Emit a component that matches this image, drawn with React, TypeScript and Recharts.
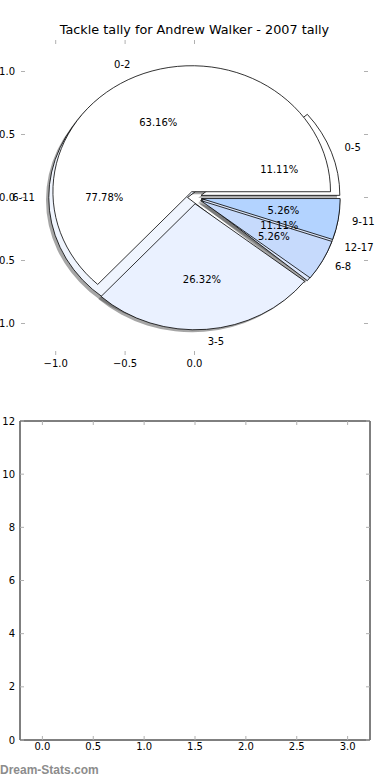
import React from "react";
import { PieChart, Pie, Cell, ScatterChart, Scatter, XAxis, YAxis } from "recharts";

const FONT = "'DejaVu Sans', sans-serif";

// first pie: age groups 0-17
const youthAges = ["0-5", "6-11", "12-17"];
const youthTackles = [1, 7, 1];
const youthColors = ["#ffffff", "#f0f5fe", "#dce7fc"];
const youthExplode = [0.05, 0.05, 0.05];

// second pie: age groups 0-11
const kidAges = ["0-2", "3-5", "6-8", "9-11"];
const kidTackles = [12, 5, 1, 1];
const kidColors = ["#ffffff", "#eaf1ff", "#c6dafc", "#b3d3ff"];
const kidExplode = [0.05, 0.05, 0.05, 0.05];

const pieTicksX = [-1, -0.5, 0];
const pieTicksY = [-1, -0.5, 0, 0.5, 1];
const barTicksX = [0, 0.5, 1, 1.5, 2, 2.5, 3];
const barTicksY = [0, 2, 4, 6, 8, 10, 12];

const youthData = youthAges.map((name, i) => ({ name, value: youthTackles[i], explode: youthExplode[i] }));
const kidData = kidAges.map((name, i) => ({ name, value: kidTackles[i], explode: kidExplode[i] }));

// pie axes geometry (matplotlib axes is not square, so the pie is an ellipse)
const W = 390;
const PIE_H = 380;
const P_LEFT = 21;
const P_RIGHT = 368;
const P_TOP = 40;
const P_BOTTOM = 355;
const CX = (P_LEFT + P_RIGHT) / 2;
const CY = (P_TOP + P_BOTTOM) / 2;
const RX = (P_RIGHT - P_LEFT) / 2.5;
const RY = (P_BOTTOM - P_TOP) / 2.5;
const SX = RX / RY;
const RAD = Math.PI / 180;

const fmt1 = (v: number) => (v < 0 ? "\u2212" : "") + Math.abs(v).toFixed(1);
const blank = () => "";

const wedge = (shadow: boolean) => (props: any) => {
  const { cx, cy, outerRadius, startAngle, endAngle, fill } = props;
  const e = props.payload?.explode ?? props.explode ?? 0;
  const mid = ((startAngle + endAngle) / 2) * RAD;
  const ox = cx + e * outerRadius * SX * Math.cos(mid) + (shadow ? -0.02 * outerRadius * SX : 0);
  const oy = cy - e * outerRadius * Math.sin(mid) + (shadow ? 0.02 * outerRadius : 0);
  const rx = outerRadius * SX;
  const ry = outerRadius;
  const x0 = ox + rx * Math.cos(startAngle * RAD);
  const y0 = oy - ry * Math.sin(startAngle * RAD);
  const x1 = ox + rx * Math.cos(endAngle * RAD);
  const y1 = oy - ry * Math.sin(endAngle * RAD);
  const large = Math.abs(endAngle - startAngle) > 180 ? 1 : 0;
  const d = `M${ox},${oy} L${x0},${y0} A${rx},${ry} 0 ${large} 0 ${x1},${y1} Z`;
  if (shadow) return <path d={d} fill="#4d4d4d" fillOpacity={0.5} stroke="none" />;
  return <path d={d} fill={fill} stroke="#000" strokeWidth={0.8} strokeLinejoin="round" />;
};

const labels = (props: any) => {
  const { cx, cy, midAngle, outerRadius, percent, name } = props;
  const e = props.payload?.explode ?? props.explode ?? 0;
  const c = Math.cos(midAngle * RAD);
  const s = Math.sin(midAngle * RAD);
  return (
    <g fontFamily={FONT} fontSize={10} fill="#000">
      <text
        x={cx + (1.1 + e) * outerRadius * SX * c}
        y={cy - (1.1 + e) * outerRadius * s}
        textAnchor={c > 0 ? "start" : "end"}
        dominantBaseline="central"
      >
        {name}
      </text>
      <text
        x={cx + (0.6 + e) * outerRadius * SX * c}
        y={cy - (0.6 + e) * outerRadius * s}
        textAnchor="middle"
        dominantBaseline="central"
      >
        {(percent * 100).toFixed(2)}%
      </text>
    </g>
  );
};

const tickStyle = { fontSize: 10, fontFamily: FONT, fill: "#000" };
const tickLine = { stroke: "#b0b0b0" };

export default function App() {
  return (
    <div style={{ position: "relative", width: W, height: 780, fontFamily: FONT }}>
      <style>{"body{margin:0}"}</style>
      <div
        style={{
          position: "absolute",
          top: 22,
          left: 0,
          width: CX * 2,
          textAlign: "center",
          fontSize: 12.8,
          lineHeight: "15px",
        }}
      >
        Tackle tally for Andrew Walker - 2007 tally
      </div>

      {/* axes behind the pie */}
      <div style={{ position: "absolute", top: 0, left: 0 }}>
        <ScatterChart width={W} height={PIE_H} margin={{ top: 30, right: 12, bottom: 0, left: 0 }}>
          <XAxis xAxisId="b" dataKey="x" type="number" domain={[-1.25, 1.25]} allowDataOverflow ticks={pieTicksX}
            interval={0} height={25} axisLine={false} tickSize={-4} tickMargin={9} tickLine={tickLine}
            tick={tickStyle} tickFormatter={fmt1} />
          <XAxis xAxisId="t" orientation="top" dataKey="x" type="number" domain={[-1.25, 1.25]} allowDataOverflow
            ticks={pieTicksX} interval={0} height={10} axisLine={false} tickSize={-4} tickLine={tickLine}
            tickFormatter={blank} />
          <YAxis yAxisId="l" dataKey="y" type="number" domain={[-1.25, 1.25]} allowDataOverflow ticks={pieTicksY}
            interval={0} width={21} axisLine={false} tickSize={-4} tickMargin={10} tickLine={tickLine}
            tick={tickStyle} tickFormatter={fmt1} />
          <YAxis yAxisId="r" orientation="right" dataKey="y" type="number" domain={[-1.25, 1.25]} allowDataOverflow
            ticks={pieTicksY} interval={0} width={10} axisLine={false} tickSize={-4} tickLine={tickLine}
            tickFormatter={blank} />
          <Scatter xAxisId="b" yAxisId="l" data={[]} isAnimationActive={false} />
          <Scatter xAxisId="t" yAxisId="r" data={[]} isAnimationActive={false} />
        </ScatterChart>
      </div>

      {/* the two overlaid pies */}
      <div style={{ position: "absolute", top: 0, left: 0 }}>
        <PieChart width={W} height={PIE_H} margin={{ top: 0, right: 0, bottom: 0, left: 0 }}>
          <Pie data={youthData} dataKey="value" nameKey="name" cx={CX} cy={CY} outerRadius={RY}
            isAnimationActive={false} shape={wedge(true)} />
          <Pie data={kidData} dataKey="value" nameKey="name" cx={CX} cy={CY} outerRadius={RY}
            isAnimationActive={false} shape={wedge(true)} />
          <Pie data={youthData} dataKey="value" nameKey="name" cx={CX} cy={CY} outerRadius={RY}
            isAnimationActive={false} shape={wedge(false)}>
            {youthData.map((d, i) => <Cell key={d.name} fill={youthColors[i]} />)}
          </Pie>
          <Pie data={kidData} dataKey="value" nameKey="name" cx={CX} cy={CY} outerRadius={RY}
            isAnimationActive={false} shape={wedge(false)}>
            {kidData.map((d, i) => <Cell key={d.name} fill={kidColors[i]} />)}
          </Pie>
          <Pie data={youthData} dataKey="value" nameKey="name" cx={CX} cy={CY} outerRadius={RY}
            isAnimationActive={false} fill="none" stroke="none" label={labels} labelLine={false} />
          <Pie data={kidData} dataKey="value" nameKey="name" cx={CX} cy={CY} outerRadius={RY}
            isAnimationActive={false} fill="none" stroke="none" label={labels} labelLine={false} />
        </PieChart>
      </div>

      {/* empty second subplot */}
      <div style={{ position: "absolute", top: 380, left: 0 }}>
        <ScatterChart width={W} height={400} margin={{ top: 31, right: 10, bottom: 15, left: 0 }}>
          <XAxis xAxisId="b" dataKey="x" type="number" domain={[-0.22, 3.22]} allowDataOverflow ticks={barTicksX}
            interval={0} height={25} axisLine={{ stroke: "#000" }} tickSize={-4} tickMargin={7} tickLine={tickLine}
            tick={tickStyle} tickFormatter={(v: number) => v.toFixed(1)} />
          <XAxis xAxisId="t" orientation="top" dataKey="x" type="number" domain={[-0.22, 3.22]} allowDataOverflow
            ticks={barTicksX} interval={0} height={10} axisLine={{ stroke: "#000" }} tickSize={-4} tickLine={tickLine}
            tickFormatter={blank} />
          <YAxis yAxisId="l" dataKey="y" type="number" domain={[0, 12]} allowDataOverflow ticks={barTicksY}
            interval={0} width={20} axisLine={{ stroke: "#000" }} tickSize={-4} tickMargin={9} tickLine={tickLine}
            tick={tickStyle} />
          <YAxis yAxisId="r" orientation="right" dataKey="y" type="number" domain={[0, 12]} allowDataOverflow
            ticks={barTicksY} interval={0} width={10} axisLine={{ stroke: "#000" }} tickSize={-4} tickLine={tickLine}
            tickFormatter={blank} />
          <Scatter xAxisId="b" yAxisId="l" data={[]} isAnimationActive={false} />
          <Scatter xAxisId="t" yAxisId="r" data={[]} isAnimationActive={false} />
        </ScatterChart>
      </div>

      <div
        style={{
          position: "absolute",
          zIndex: 2,
          top: 763,
          left: 0,
          fontFamily: "'Liberation Sans', Arial, sans-serif",
          fontSize: 12,
          lineHeight: "14px",
          color: "#8c8c8c",
          fontWeight: "bold",
        }}
      >
        Dream-Stats.com
      </div>
    </div>
  );
}
